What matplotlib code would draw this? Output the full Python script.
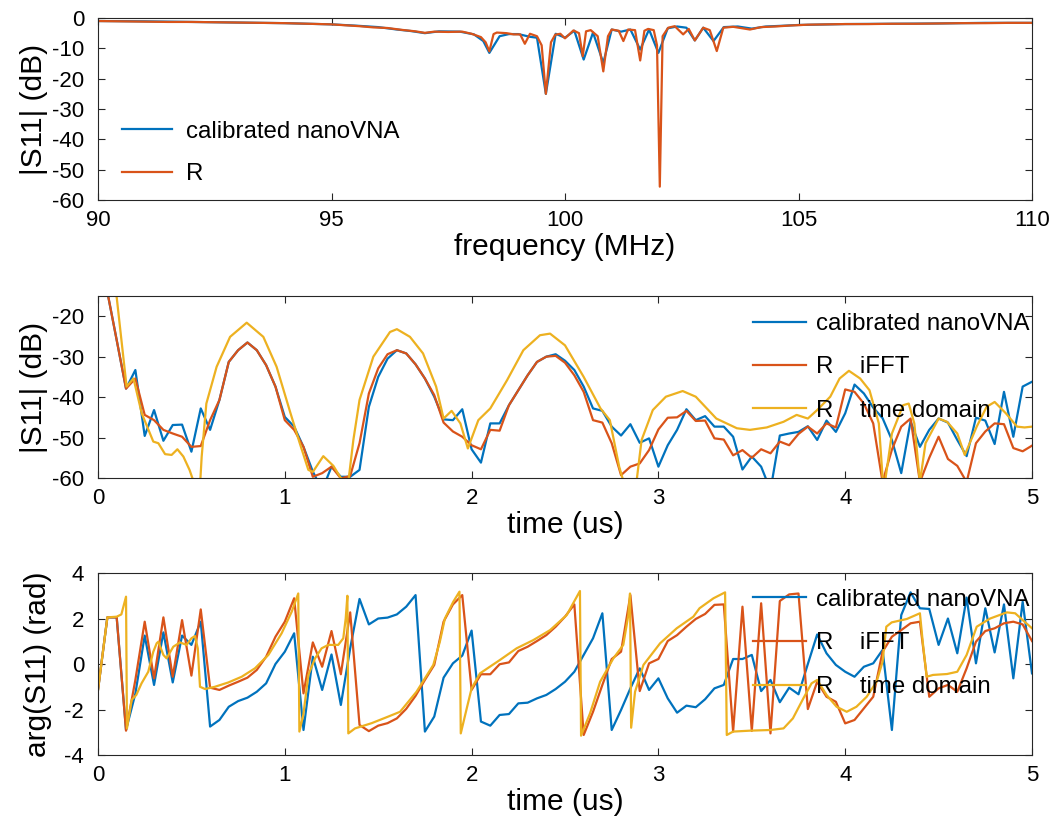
import numpy as np
import matplotlib
matplotlib.use("Agg")
import matplotlib.pyplot as plt

plt.rcParams['font.family'] = ['Liberation Sans', 'DejaVu Sans']
plt.rcParams['axes.unicode_minus'] = False

BLUE = '#0072BD'
ORANGE = '#D95319'
YELLOW = '#EDB120'

# ---- top: |S11| vs frequency
f_cal = [90, 91, 92, 93, 94, 95, 95.5, 96, 96.4, 96.7, 97.0, 97.3, 97.75, 98.05, 98.25,
         98.38, 98.6, 98.8, 99.0, 99.25, 99.4, 99.59, 99.8, 100.0, 100.2, 100.4, 100.6,
         100.82, 101.0, 101.2, 101.4, 101.61, 101.8, 102.0, 102.2, 102.4, 102.6, 102.78,
         102.96, 103.18, 103.4, 103.7, 104.0, 104.3, 104.6, 105, 106, 107, 108, 109, 110]
s_cal = [-1.0, -1.1, -1.3, -1.5, -1.7, -2.1, -2.5, -3.0, -3.8, -4.3, -5.0, -4.4, -4.5, -5.4, -7.6,
         -11.5, -6.0, -5.3, -5.3, -6.2, -6.5, -25.0, -5.2, -6.5, -4.2, -13.7, -4.8,
         -14.8, -3.8, -4.5, -3.8, -10.4, -3.8, -11.5, -3.4, -2.8, -3.2, -7.4,
         -3.2, -7.6, -3.0, -2.8, -3.5, -2.8, -2.6, -2.3, -2.0, -1.9, -1.8, -1.6, -1.6]

f_r = [90, 90.5, 91, 91.5, 92, 92.5, 93, 93.5, 94, 94.5, 95, 95.3, 95.6, 95.9, 96.2, 96.5,
       96.8, 97.0, 97.2, 97.5, 97.8, 98.0, 98.2, 98.3, 98.38, 98.47, 98.54, 98.75, 98.9,
       99.04, 99.14, 99.25, 99.4, 99.5, 99.59, 99.7, 99.79, 99.9, 100.0, 100.18, 100.3,
       100.38, 100.45, 100.55, 100.7, 100.82, 100.92, 101.0, 101.15, 101.25, 101.35,
       101.5, 101.61, 101.7, 101.78, 101.9, 101.97, 102.03, 102.09, 102.21, 102.35,
       102.53, 102.65, 102.78, 102.96, 103.1, 103.25, 103.39, 103.6, 103.8, 103.96,
       104.2, 104.5, 104.8, 105.2, 105.6, 106, 106.5, 107, 107.5, 108, 108.5, 109, 109.5, 110]
s_r = [-1.0, -1.1, -1.2, -1.3, -1.3, -1.4, -1.5, -1.6, -1.7, -1.9, -2.1, -2.4, -2.7, -3.1, -3.3, -3.9,
       -4.4, -4.9, -4.5, -4.6, -4.5, -5.2, -6.3, -8.0, -11.0, -5.3, -4.8, -5.0, -5.4,
       -5.4, -8.5, -5.2, -6.0, -9.0, -25.0, -8.0, -5.5, -5.2, -6.7, -4.1, -5.0,
       -12.6, -4.4, -4.0, -6.0, -17.6, -6.0, -3.8, -4.2, -7.6, -3.8,
       -4.0, -14.0, -4.2, -3.6, -4.0, -9.0, -55.6, -6.0, -3.2, -2.7,
       -5.4, -3.6, -7.4, -3.2, -4.0, -10.9, -3.2, -2.9, -3.4, -3.8,
       -3.0, -2.8, -2.5, -2.2, -2.1, -2.0, -2.0, -1.9, -1.9, -1.8, -1.7, -1.7, -1.6, -1.6]

# ---- time axis for the sampled curves (0 .. 5 us, 0.05 us step)
t = np.linspace(0, 5, 101)

db_cal = [-5, -14, -25.9, -37.9, -33.3, -49.6, -43.2, -50.8, -46.9, -46.8,
          -53.5, -42.8, -48.1, -40.7, -31.3, -28.4, -26.5, -28.4, -32.1, -37.4,
          -44.9, -47.3, -52.3, -58.4, -63, -57.2, -59.7, -59.7, -58, -42.4,
          -35, -30.5, -28.4, -29.2, -31.9, -35.4, -39.9, -45.5, -45.7, -43.0,
          -52.9, -56.2, -46.5, -46.5, -42, -38.3, -34.6, -31.3, -30.0, -29.4,
          -31.0, -33.3, -37.4, -42.8, -43.4, -47.3, -49.5, -46.7, -51.3, -50.2,
          -57.2, -51.9, -48.1, -43.0, -45.7, -44.7, -47.3, -47.3, -49.8, -57.9,
          -54.7, -57.2, -63, -49.5, -49.0, -48.6, -47.2, -50.6, -45.8, -48.6,
          -44.0, -36.9, -39.1, -42.6, -45.2, -50.6, -58.8, -46, -52.3, -48.1,
          -45.3, -46.3, -50.6, -54.6, -45.1, -45.8, -51.6, -38.7, -49.8, -37.4,
          -36.2]
db_ifft = [-5, -14, -25.9, -37.9, -35.4, -44.4, -45.7, -48.1, -49.0, -49.8,
           -52.3, -52.1, -45.7, -40.7, -31.3, -28.4, -26.5, -28.4, -32.1, -37.4,
           -45.7, -48.1, -52.3, -59.7, -58.8, -57.2, -60.1, -59.5, -51.4, -39.1,
           -32.9, -29.4, -28.4, -29.2, -31.9, -35.4, -39.5, -46.3, -48.5, -49.8,
           -51.9, -52.9, -48.1, -48.3, -42, -38.3, -34.6, -31.3, -30.0, -29.8,
           -31.5, -34.6, -38.7, -45.7, -46.3, -51.4, -59.3, -57.2, -56.4, -53.1,
           -48.0, -45.1, -45.0, -43.4, -45.9, -45.8, -50.2, -50.5, -54.4, -53.1,
           -55.0, -52.9, -53.9, -51.0, -51.9, -49.1, -47.3, -49.0, -46.5, -47.5,
           -38.1, -38.7, -41.6, -46.5, -61, -53, -47.3, -45.3, -61, -55,
           -49.8, -55.3, -57, -61, -51.4, -48.5, -46.5, -46.7, -52.6, -53.4,
           -52]

t_td = [0.0, 0.05, 0.1, 0.153, 0.19, 0.234, 0.296, 0.323, 0.359, 0.394, 0.425, 0.457, 0.49,
        0.52, 0.546, 0.555, 0.58, 0.635, 0.707, 0.796, 0.885, 0.956, 1.028, 1.08, 1.126,
        1.15, 1.206, 1.26, 1.313, 1.34, 1.367, 1.4, 1.474, 1.563, 1.6, 1.67, 1.74, 1.81,
        1.85, 1.893, 1.94, 1.98, 2.036, 2.1, 2.19, 2.277, 2.366, 2.42, 2.5, 2.6, 2.69,
        2.74, 2.79, 2.82, 2.88, 2.91, 2.97, 3.04, 3.13, 3.2, 3.31, 3.42, 3.49, 3.58, 3.67,
        3.74, 3.8, 3.85, 3.92, 3.97, 4.02, 4.08, 4.13, 4.18, 4.2, 4.21, 4.25, 4.31, 4.34,
        4.37, 4.4, 4.43, 4.5, 4.545, 4.6, 4.64, 4.704, 4.757, 4.8, 4.86, 4.92, 4.96, 5.0]
db_td = [-5, -8, -15.3, -37.4, -35.4, -44, -51, -51.4, -54.1, -54.3, -52.9, -54.7, -58,
         -62, -62, -54.7, -41.6, -32.5, -25.1, -21.6, -25.1, -32.5, -43.6, -51.4, -58,
         -58.5, -54.6, -57, -61, -61, -50.6, -40.7, -30.0, -23.9, -23.2, -25.1, -29.2, -37.4,
         -45.3, -43.4, -46.5, -52.7, -45.7, -42.8, -35.8, -28.4, -24.7, -24.3, -27.2, -35, -42.8,
         -45.7, -57.2, -62, -62, -50.6, -43.2, -39.9, -38.5, -39.9, -45.3, -47.7, -48.1, -47.5, -46.1,
         -44.4, -45.3, -43.2, -39.9, -35.4, -33.5, -35.4, -38.3, -46.5, -59.7, -62, -49, -42, -41.6,
         -46.5, -61, -51.4, -45.3, -46.1, -49, -54.3, -47.3, -42.4, -41.2, -44, -47.3, -47.5, -47.3]

ph_cal = [-1.14, 2.05, 2.05, -2.9, -1.3, 1.25, -0.92, 1.39, -0.81, 1.25,
          0.84, 1.86, -2.75, -2.46, -1.88, -1.63, -1.48, -1.22, -0.85, 0.0,
          0.54, 1.35, -2.9, 0.32, -1.14, 0.42, -1.8, 0.69, 2.86, 1.74,
          2.0, 2.04, 2.18, 2.52, 3.03, -2.97, -2.31, -0.6, 0.03, 0.37,
          1.47, -2.53, -2.71, -2.24, -2.2, -1.73, -1.7, -1.51, -1.36, -1.1,
          -0.78, -0.34, 0.4, 1.13, 2.23, -2.9, -2.02, -1.07, -0.19, -1.14,
          -0.63, -1.51, -2.14, -1.83, -1.9, -1.55, -1.07, -0.92, 0.22, 0.22,
          0.4, -1.19, -0.7, -1.68, -1.04, -1.33, 0.0, 1.3, 0.47, -0.04,
          -0.34, -0.56, -0.12, 0.03, 0.62, -2.9, 2.15, 3.15, 2.45, 2.42,
          0.84, 2.0, 0.47, 2.92, 0.03, 2.45, 0.51, 2.62, -0.63, 2.74,
          -0.41]
ph_ifft = [-1.14, 2.05, 2.05, -2.93, -0.7, 1.86, -0.63, 2.05, -0.56, 1.93,
           -0.51, 2.4, -1.04, -1.14, -0.95, -0.78, -0.6, -0.26, 0.32, 1.2,
           1.86, 2.89, -1.29, 0.95, -0.12, 1.45, -0.45, 2.27, -2.68, -2.95,
           -2.71, -2.6, -2.39, -1.97, -1.4, -0.7, -0.04, 1.86, 2.62, 3.03,
           -1.14, -0.45, -0.45, -0.01, 0.07, 0.57, 0.76, 1.01, 1.27, 1.64,
           2.08, 2.62, -3.12, -2.1, -0.92, 0.22, 0.54, 3.03, -1.19, 0.03,
           0.22, 1.01, 1.27, 1.64, 1.98, 2.2, 2.6, 2.62, -2.97, 2.52,
           -2.94, 2.67, -3.05, 2.77, 3.06, 3.1, -1.98, -0.78, -1.44, -1.66,
           -2.61, -2.46, -1.95, -1.44, 0.54, 1.2, 1.49, 1.79, 1.86, -1.44,
           -1.07, -0.92, -1.22, -0.19, 0.98, 1.45, 1.57, 1.79, 1.86, 1.74,
           1.01]

t_tdp = [0, 0.05, 0.1, 0.125, 0.15, 0.155, 0.18, 0.205, 0.233, 0.269, 0.296, 0.314, 0.323,
         0.35, 0.367, 0.403, 0.439, 0.474, 0.5, 0.519, 0.534, 0.546, 0.573, 0.626, 0.698,
         0.769, 0.84, 0.912, 0.983, 1.037, 1.072, 1.078, 1.099, 1.126, 1.162, 1.197, 1.233,
         1.286, 1.313, 1.326, 1.335, 1.34, 1.376, 1.465, 1.554, 1.617, 1.705, 1.795, 1.83,
         1.857, 1.902, 1.935, 1.942, 1.974, 2.0, 2.045, 2.152, 2.241, 2.33, 2.42, 2.509,
         2.58, 2.586, 2.634, 2.688, 2.759, 2.812, 2.839, 2.848, 2.854, 2.875, 2.92, 3.009,
         3.098, 3.187, 3.22, 3.295, 3.357, 3.366, 3.40, 3.49, 3.6, 3.67, 3.72, 3.776, 3.82,
         3.85, 3.9, 3.954, 4.008, 4.06, 4.115, 4.168, 4.2, 4.22, 4.249, 4.33, 4.4, 4.415,
         4.436, 4.47, 4.545, 4.6, 4.65, 4.704, 4.776, 4.865, 4.91, 4.96, 5.0]
ph_td = [-1.14, 2.05, 2.08, 2.18, 2.96, -2.83, -1.58, -1.36, -0.85, -0.34, 0.54, 0.91, 0.98,
         0.4, 0.25, 0.76, 0.95, 0.84, 1.13, 1.23, 0.69, -1.0, -1.1, -1.0, -0.81,
         -0.56, -0.19, 0.4, 1.35, 2.3, 3.1, -2.97, -2.24, -0.48, 0.25, 0.69, 0.84,
         0.84, 1.13, 2.0, 3.0, -3.05, -2.83, -2.6, -2.31, -2.1, -1.22, -0.04, 0.98,
         2.0, 2.74, 3.18, -3.05, -1.95, -1.07, -0.41, 0.18, 0.69, 1.05, 1.49, 2.15,
         3.21, -3.15, -2.17, -0.78, 0.25, 0.84, 2.15, 3.1, -2.8, -1.22, -0.04, 0.91,
         1.57, 2.08, 2.45, 2.89, 3.15, -3.12, -2.97, -2.93, -2.9, -2.83, -2.39, -1.51, -0.85,
         -0.7, -1.36, -1.88, -2.1, -1.88, -1.44, -0.78, 0.1, 1.64, 1.83, 1.98, 2.23, 0.98,
         -0.56, -0.48, -0.44, -0.34, 0.4, 1.64, 2.0, 2.27, 2.23, 1.86, 1.57]

fig = plt.figure(figsize=(10.55, 8.22), dpi=100)
LW = 1.6
TICK_FS = 16
LABEL_FS = 21.5
LEG_FS = 17.3


def style(ax):
    ax.tick_params(direction='in', top=True, right=True, length=5, width=0.8,
                   labelsize=TICK_FS, colors='#262626', labelcolor='black')
    ax.tick_params(axis='x', pad=7.5)
    ax.tick_params(axis='y', pad=10)
    for s in ax.spines.values():
        s.set_color('#262626')
        s.set_linewidth(0.8)


ax1 = fig.add_axes([0.0929, 0.7567, 0.8853, 0.2214])
ax1.plot(f_cal, s_cal, color=BLUE, lw=LW, label='calibrated nanoVNA')
ax1.plot(f_r, s_r, color=ORANGE, lw=LW, label='R')
ax1.set_xlim(90, 110)
ax1.set_ylim(-60, 0)
ax1.set_xticks([90, 95, 100, 105, 110])
ax1.set_yticks([-60, -50, -40, -30, -20, -10, 0])
ax1.set_xlabel('frequency (MHz)', fontsize=LABEL_FS, labelpad=1)
ax1.set_ylabel('|S11| (dB)', fontsize=LABEL_FS, labelpad=3)
style(ax1)
ax1.legend(loc='upper left', bbox_to_anchor=(0.0257, 0.435), frameon=False,
           fontsize=LEG_FS, handlelength=2.1, handletextpad=0.55, labelspacing=0.85,
           borderpad=0, borderaxespad=0)

ax2 = fig.add_axes([0.0929, 0.4185, 0.8853, 0.2214])
ax2.plot(t, db_cal, color=BLUE, lw=LW, label='calibrated nanoVNA')
ax2.plot(t, db_ifft, color=ORANGE, lw=LW, label='R    iFFT')
ax2.plot(t_td, db_td, color=YELLOW, lw=LW, label='R    time domain')
ax2.set_xlim(0, 5)
ax2.set_ylim(-60, -15)
ax2.set_xticks([0, 1, 2, 3, 4, 5])
ax2.set_yticks([-60, -50, -40, -30, -20])
ax2.set_xlabel('time (us)', fontsize=LABEL_FS, labelpad=1)
ax2.set_ylabel('|S11| (dB)', fontsize=LABEL_FS, labelpad=3)
style(ax2)
ax2.legend(loc='upper left', bbox_to_anchor=(0.701, 0.905), frameon=False,
           fontsize=LEG_FS, handlelength=2.2, handletextpad=0.42, labelspacing=0.88,
           borderpad=0, borderaxespad=0)

ax3 = fig.add_axes([0.0929, 0.0815, 0.8853, 0.2214])
ax3.plot(t, ph_cal, color=BLUE, lw=LW, label='calibrated nanoVNA')
ax3.plot(t, ph_ifft, color=ORANGE, lw=LW, label='R    iFFT')
ax3.plot(t_tdp, ph_td, color=YELLOW, lw=LW, label='R    time domain')
ax3.set_xlim(0, 5)
ax3.set_ylim(-4, 4)
ax3.set_xticks([0, 1, 2, 3, 4, 5])
ax3.set_yticks([-4, -2, 0, 2, 4])
ax3.set_xlabel('time (us)', fontsize=LABEL_FS, labelpad=1)
ax3.set_ylabel('arg(S11) (rad)', fontsize=LABEL_FS, labelpad=9)
style(ax3)
ax3.legend(loc='upper left', bbox_to_anchor=(0.701, 0.914), frameon=False,
           fontsize=LEG_FS, handlelength=2.2, handletextpad=0.42, labelspacing=0.9,
           borderpad=0, borderaxespad=0)

fig.savefig('out.png', dpi=100)
